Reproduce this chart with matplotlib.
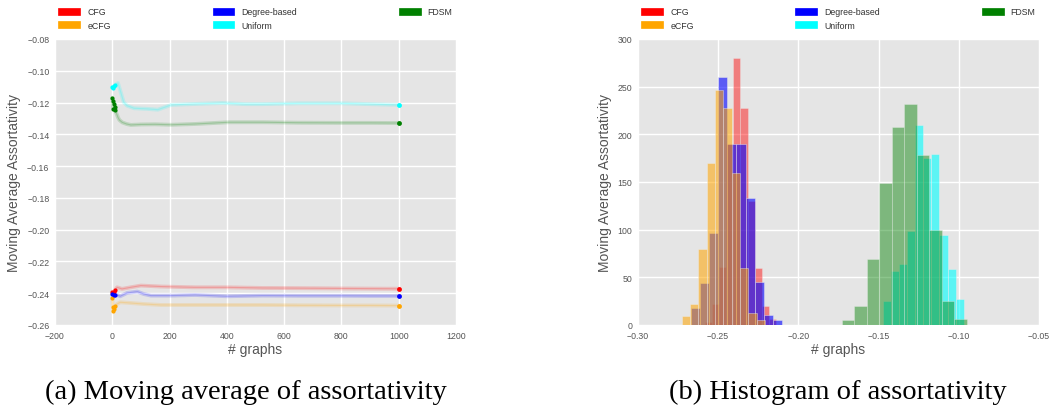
import matplotlib.pyplot as plt
import matplotlib.patches as mpatches
import numpy as np

plt.style.use('ggplot')
plt.rcParams['font.family'] = ['Liberation Sans', 'DejaVu Sans']
plt.rcParams['axes.unicode_minus'] = True

names = ['CFG', 'eCFG', 'Degree-based', 'Uniform', 'FDSM']
colors = ['red', 'orange', 'blue', 'cyan', 'green']
alphas = [0.45, 0.55, 0.6, 0.6, 0.45]

# moving average of assortativity over the sampled graphs
cfg_x = [0, 2, 5, 10, 17, 34, 64, 100, 170, 289, 400, 525, 650, 800, 900, 1000]
cfg_y = [-0.2390, -0.2405, -0.2395, -0.2380, -0.2363, -0.2373, -0.2363, -0.2352, -0.2358,
         -0.2363, -0.2363, -0.2367, -0.2368, -0.2370, -0.2371, -0.2372]

ecfg_x = [0, 2, 4, 6, 10, 17, 28, 52, 110, 170, 289, 400, 525, 650, 800, 900, 1000]
ecfg_y = [-0.2432, -0.2489, -0.2510, -0.2500, -0.2480, -0.2468, -0.2457, -0.2460, -0.2468,
          -0.2474, -0.2474, -0.2474, -0.2474, -0.2476, -0.2477, -0.2477, -0.2478]

deg_x = [0, 5, 10, 17, 28, 52, 88, 110, 135, 206, 289, 400, 525, 650, 800, 900, 1000]
deg_y = [-0.2405, -0.2410, -0.2412, -0.2411, -0.2419, -0.2398, -0.2390, -0.2405, -0.2415,
         -0.2415, -0.2411, -0.2419, -0.2415, -0.2416, -0.2416, -0.2417, -0.2417]

uni_x = [0, 3, 6, 10, 20, 28, 40, 52, 76, 123, 159, 206, 289, 384, 466, 525, 650, 800, 900, 1000]
uni_y = [-0.1104, -0.1110, -0.1095, -0.1090, -0.1077, -0.1125, -0.1198, -0.1220, -0.1236,
         -0.1240, -0.1245, -0.1215, -0.1209, -0.1203, -0.1210, -0.1210, -0.1205, -0.1205,
         -0.1210, -0.1215]

fdsm_x = [0, 2, 4, 6, 8, 10, 12, 15, 20, 25, 35, 50, 65, 100, 150, 206, 289, 408, 525, 650,
          800, 900, 1000]
fdsm_y = [-0.1170, -0.1190, -0.1240, -0.1210, -0.1250, -0.1230, -0.1260, -0.1270, -0.1293,
          -0.1310, -0.1325, -0.1335, -0.1341, -0.1338, -0.1337, -0.1340, -0.1335, -0.1324,
          -0.1324, -0.1327, -0.1328, -0.1328, -0.1329]

# histograms: value range and counts of the 10 bins per model
cfg_range = (-0.2584, -0.2138)
cfg_counts = [3, 22, 61, 190, 280, 228, 130, 60, 20, 6]
ecfg_range = (-0.2728, -0.2208)
ecfg_counts = [9, 22, 80, 170, 246, 228, 159, 60, 13, 5]
deg_range = (-0.2670, -0.2102)
deg_counts = [18, 44, 96, 260, 190, 190, 133, 45, 10, 5]
uni_range = (-0.1475, -0.0968)
uni_counts = [25, 57, 64, 99, 210, 175, 179, 94, 59, 27]
fdsm_range = (-0.1730, -0.0951)
fdsm_counts = [5, 20, 69, 149, 208, 232, 178, 100, 25, 6]

series = [(cfg_x, cfg_y), (ecfg_x, ecfg_y), (deg_x, deg_y), (uni_x, uni_y), (fdsm_x, fdsm_y)]
hists = [(cfg_range, cfg_counts), (ecfg_range, ecfg_counts), (deg_range, deg_counts),
         (uni_range, uni_counts), (fdsm_range, fdsm_counts)]
hist_order = [0, 2, 1, 3, 4]  # eCFG goes on top of the degree-based bars

fig = plt.figure(figsize=(10.51, 4.10), dpi=100)
ax1 = fig.add_axes([0.0523, 0.2049, 0.3815, 0.6976])
ax2 = fig.add_axes([0.6070, 0.2049, 0.3815, 0.6976])

# (a) moving average: faint trail, first samples and final value solid
for (xs, ys), c in zip(series, colors):
    xs = np.array(xs)
    ys = np.array(ys)
    ax1.plot(xs, ys, '-', color=c, alpha=0.16, lw=2.8, solid_capstyle='round')
    ax1.plot(xs, ys, '-', color=c, alpha=0.2, lw=0.8)
    first = xs <= 10
    ax1.plot(xs[first], ys[first], 'o', color=c, ms=3, mew=0)
    ax1.plot(xs[-1], ys[-1], 'o', color=c, ms=3.5, mew=0)

ax1.set_xlim(-200, 1200)
ax1.set_ylim(-0.26, -0.08)
ax1.set_xticks(np.arange(-200, 1201, 200))
yt = np.round(np.arange(-0.26, -0.079, 0.02), 2)
ax1.set_yticks(yt)
ax1.set_yticklabels([('%.2f' % v).replace('-', '\u2212') for v in yt])

# (b) histograms
for i in hist_order:
    (lo, hi), counts = hists[i]
    edges = np.linspace(lo, hi, len(counts) + 1)
    centers = (edges[:-1] + edges[1:]) / 2
    ax2.hist(centers, bins=edges, weights=counts, color=colors[i], alpha=alphas[i],
             edgecolor='#EEEEEE', linewidth=0.5)

ax2.set_xlim(-0.30, -0.05)
ax2.set_ylim(0, 300)
xt = np.round(np.arange(-0.30, -0.049, 0.05), 2)
ax2.set_xticks(xt)
ax2.set_xticklabels([('%.2f' % v).replace('-', '\u2212') for v in xt])
ax2.set_yticks(np.arange(0, 301, 50))

handles = [mpatches.Patch(color=c, label=n) for n, c in zip(names, colors)]
for ax in (ax1, ax2):
    ax.set_facecolor('#E5E5E5')
    ax.grid(True, color='white', linewidth=1)
    ax.set_axisbelow(True)
    ax.tick_params(length=0, labelsize=6.3, colors='#555555', pad=4)
    ax.set_xlabel('# graphs', fontsize=10, color='#555555', labelpad=2)
    ax.set_ylabel('Moving Average Assortativity', fontsize=10, color='#555555')
    for s in ax.spines.values():
        s.set_visible(False)
    ax.legend(handles=handles, bbox_to_anchor=(0., 1.02, 1., .102), loc='lower left',
              ncol=3, mode='expand', borderaxespad=0., frameon=False, fontsize=6.3,
              labelcolor='#333333', handlelength=2.5, handleheight=0.9)

fig.text(0.234, 0.042, '(a) Moving average of assortativity', ha='center', va='center',
         fontsize=20.5, family='Liberation Serif')
fig.text(0.797, 0.042, '(b) Histogram of assortativity', ha='center', va='center',
         fontsize=20.5, family='Liberation Serif')

fig.savefig('out.png', dpi=100, facecolor='white')
